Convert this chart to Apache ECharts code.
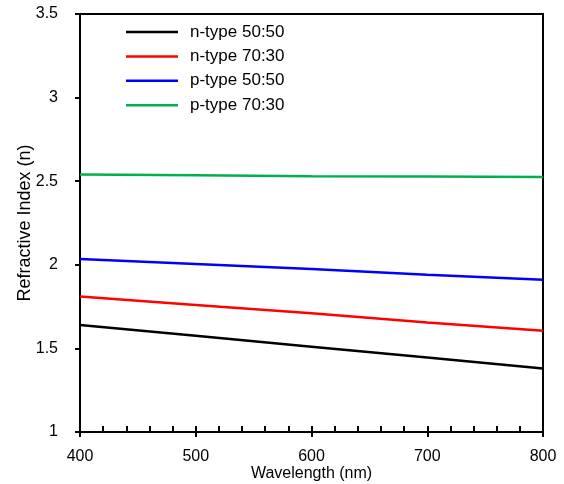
<!DOCTYPE html>
<html>
<head>
<meta charset="utf-8">
<script src="https://cdn.jsdelivr.net/npm/echarts@6/dist/echarts.min.js"></script>
<style>
html,body{margin:0;padding:0;background:#fff;}
#chart{width:564px;height:484px;}
</style>
</head>
<body>
<div id="chart"></div>
<script>
//数据
var wavelength = [400, 500, 600, 700, 800];
var nType5050 = [1.64, 1.575, 1.51, 1.445, 1.38];
var nType7030 = [1.81, 1.76, 1.71, 1.655, 1.605];
var pType5050 = [2.035, 2.005, 1.975, 1.94, 1.91];
var pType7030 = [2.54, 2.535, 2.53, 2.528, 2.525];
var seriesNames = ['n-type 50:50', 'n-type 70:30', 'p-type 50:50', 'p-type 70:30'];
var seriesColors = ['#000000', '#ff0000', '#0000ff', '#00b050'];

function pairs(xs, ys) {
	var arr = [];
	for (var i = 0; i < xs.length; i++) {
		arr.push([xs[i], ys[i]]);
	}
	return arr;
}

var allValues = [nType5050, nType7030, pType5050, pType7030];
var series = [];
for (var i = 0; i < allValues.length; i++) {
	series.push({
		name: seriesNames[i],
		type: 'line',
		xAxisIndex: 0,
		symbol: 'none',
		data: pairs(wavelength, allValues[i]),
		lineStyle: {color: seriesColors[i], width: 2.5},
		itemStyle: {color: seriesColors[i]}
	});
}

var fontName = 'Liberation Sans, Arial, sans-serif';
var myChart = echarts.init(document.getElementById('chart'));
myChart.setOption({
	animation: false,
	backgroundColor: '#fff',
	grid: {
		left: 80, right: 21, top: 14, bottom: 52,
		containLabel: false, outerBoundsMode: 'none',
		show: true, borderColor: '#000', borderWidth: 2, backgroundColor: 'transparent'
	},
	legend: {
		orient: 'vertical',
		left: 126, top: 23.5, padding: 0,
		icon: 'rect',
		itemWidth: 52, itemHeight: 2.5, itemGap: 7.4,
		data: seriesNames,
		textStyle: {fontFamily: fontName, fontSize: 17, color: '#000', padding: [0, 0, 0, 7], lineHeight: 17}
	},
	xAxis: [{
		type: 'value',
		min: 400, max: 800, interval: 100,
		name: 'Wavelength (nm)',
		nameLocation: 'middle', nameGap: 34, nameMoveOverlap: false,
		nameTextStyle: {fontFamily: fontName, fontSize: 16, color: '#000'},
		axisLine: {show: true, lineStyle: {color: '#000', width: 2}},
		axisTick: {show: true, inside: false, length: 5, lineStyle: {color: '#000', width: 2}},
		axisLabel: {fontFamily: fontName, fontSize: 16, color: '#000', margin: 17},
		splitLine: {show: false}
	}, {
		//内侧小刻度
		type: 'value',
		position: 'bottom',
		min: 400, max: 800, interval: 20,
		axisLine: {show: false},
		axisTick: {show: true, inside: true, length: 6, lineStyle: {color: '#000', width: 2}},
		axisLabel: {show: false},
		splitLine: {show: false}
	}],
	yAxis: {
		type: 'value',
		min: 1, max: 3.5, interval: 0.5,
		name: 'Refractive Index (n)',
		nameLocation: 'middle', nameGap: 46, nameMoveOverlap: false,
		nameTextStyle: {fontFamily: fontName, fontSize: 18, color: '#000'},
		axisLine: {show: true, lineStyle: {color: '#000', width: 2}},
		axisTick: {show: true, inside: false, length: 5, lineStyle: {color: '#000', width: 2}},
		axisLabel: {fontFamily: fontName, fontSize: 16, color: '#000', margin: 22},
		splitLine: {show: false}
	},
	series: series
});
</script>
</body>
</html>
